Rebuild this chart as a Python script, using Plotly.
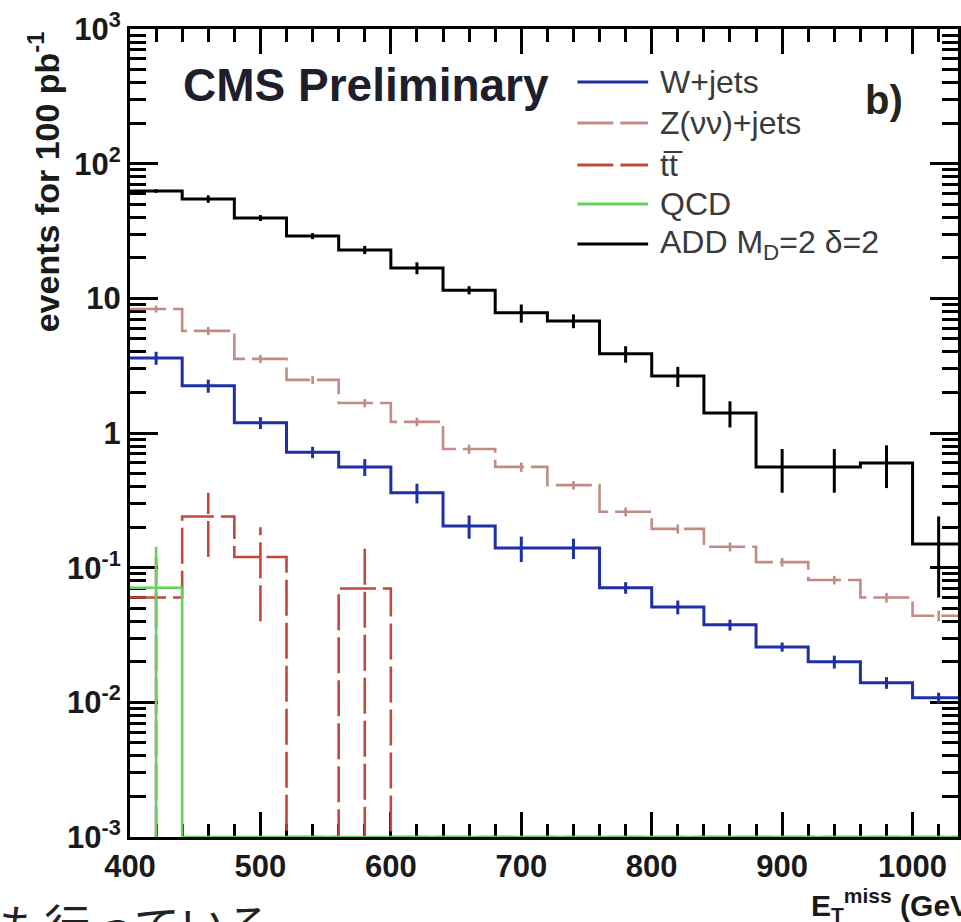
import plotly.graph_objects as go

# ---------------- data ----------------
bin_edges = [400, 440, 480, 520, 560, 600, 640, 680, 720, 760, 800, 840, 880, 920, 960, 1000, 1040]

wjets_vals = [3.61, 2.24, 1.19, 0.72, 0.56, 0.36, 0.204, 0.140, 0.140, 0.071, 0.051, 0.0376, 0.0258, 0.0200, 0.0140, 0.0108]
wjets_errs = [0.40, 0.25, 0.12, 0.07, 0.08, 0.06, 0.040, 0.030, 0.024, 0.007, 0.006, 0.0035, 0.0020, 0.0022, 0.0014, 0.0010]

zjets_vals = [8.34, 5.73, 3.55, 2.48, 1.67, 1.21, 0.76, 0.56, 0.41, 0.26, 0.194, 0.143, 0.110, 0.081, 0.060, 0.044]
zjets_errs = [0.50, 0.40, 0.25, 0.17, 0.12, 0.09, 0.06, 0.045, 0.03, 0.02, 0.015, 0.011, 0.008, 0.006, 0.005, 0.004]

ttbar_vals = [0.060, 0.24, 0.12, 0, 0.070, 0, 0, 0, 0, 0, 0, 0, 0, 0, 0, 0]
ttbar_errs = [0.060, 0.12, 0.08, 0, 0.070, 0, 0, 0, 0, 0, 0, 0, 0, 0, 0, 0]

qcd_vals = [0.071, 0, 0, 0, 0, 0, 0, 0, 0, 0, 0, 0, 0, 0, 0, 0]
qcd_errs = [0.072, 0, 0, 0, 0, 0, 0, 0, 0, 0, 0, 0, 0, 0, 0, 0]

add_vals = [62.7, 54.7, 39.5, 29.0, 22.9, 16.8, 11.5, 7.8, 6.8, 3.87, 2.65, 1.41, 0.56, 0.56, 0.60, 0.15]
add_errs = [2.0, 3.5, 2.0, 1.5, 1.6, 1.7, 0.8, 1.2, 0.8, 0.54, 0.45, 0.31, 0.20, 0.20, 0.21, 0.09]

legend_labels = ["W+jets", "Z(νν)+jets", "tt\u0305", "QCD", "ADD M<sub>D</sub>=2 δ=2"]
ytick_vals = [1e-3, 1e-2, 1e-1, 1, 10, 100, 1000]
ytick_text = ["10<sup>-3</sup>", "10<sup>-2</sup>", "10<sup>-1</sup>", "1", "10", "10<sup>2</sup>", "10<sup>3</sup>"]
xtick_vals = [400, 500, 600, 700, 800, 900, 1000]

# ---------------- style ----------------
YMIN, YMAX = 1e-3, 1e3
W, H = 961, 922
ML, MR, MT, MB = 130, 0, 29, 85
PX_PER_GEV = 1.309
XMAX = bin_edges[0] + (W - ML - MR) / PX_PER_GEV

C_W = "#1f2fa6"
C_Z = "#c28b86"
C_T = "#c2473d"
C_Q = "#62d25a"
C_A = "#000000"
DASH = "36px,7px"
FONT = "Liberation Sans, Arial, Helvetica, sans-serif"

fig = go.Figure()


def add_hist(vals, errs, color, width, dash):
    xs = list(bin_edges)
    ys = [max(v, YMIN) for v in vals] + [max(vals[-1], YMIN)]
    fig.add_trace(go.Scatter(x=xs, y=ys, mode="lines", line_shape="hv",
                             line=dict(color=color, width=width, dash=dash),
                             hoverinfo="skip", showlegend=False))
    ex, ey = [], []
    for lo, hi, v, e in zip(bin_edges[:-1], bin_edges[1:], vals, errs):
        if v <= 0:
            continue
        c = 0.5 * (lo + hi)
        low = v - e if v - e > 0 else YMIN * 0.1
        ex += [c, c, None]
        ey += [low, v + e, None]
    fig.add_trace(go.Scatter(x=ex, y=ey, mode="lines",
                             line=dict(color=color, width=width, dash=dash),
                             hoverinfo="skip", showlegend=False))


add_hist(zjets_vals, zjets_errs, C_Z, 2.6, DASH)
add_hist(wjets_vals, wjets_errs, C_W, 3.0, "solid")
add_hist(ttbar_vals, ttbar_errs, C_T, 2.6, DASH)
add_hist(qcd_vals, qcd_errs, C_Q, 2.6, "solid")
add_hist(add_vals, add_errs, C_A, 3.0, "solid")


def px2paper_x(px):
    return (px - ML) / (W - ML - MR)


def px2paper_y(py):
    return (H - MB - py) / (H - MT - MB)


# ---------------- legend (manual, ROOT-like) ----------------
leg_rows_y = [82, 123, 165, 204, 244]
leg_colors = [C_W, C_Z, C_T, C_Q, C_A]
leg_dash = ["solid", DASH, DASH, "solid", "solid"]
shapes = []
annotations = []
for lab, yy, col, ds in zip(legend_labels, leg_rows_y, leg_colors, leg_dash):
    shapes.append(dict(type="line", xref="paper", yref="paper",
                       x0=px2paper_x(579), x1=px2paper_x(650),
                       y0=px2paper_y(yy), y1=px2paper_y(yy),
                       line=dict(color=col, width=3, dash=ds)))
    annotations.append(dict(xref="paper", yref="paper", x=px2paper_x(660), y=px2paper_y(yy),
                            xanchor="left", yanchor="middle", showarrow=False, text=lab,
                            font=dict(family=FONT, size=32, color="#3a3a3a")))

annotations += [
    dict(xref="paper", yref="paper", x=px2paper_x(181), y=px2paper_y(85),
         xanchor="left", yanchor="middle", showarrow=False, text="CMS Preliminary",
         font=dict(family=FONT, size=46, color="#1e1e2c", weight="bold")),
    dict(xref="paper", yref="paper", x=px2paper_x(866), y=px2paper_y(100),
         xanchor="left", yanchor="middle", showarrow=False, text="b)",
         font=dict(family=FONT, size=40, color="#262418", weight="bold")),
    dict(xref="paper", yref="paper", x=px2paper_x(44), y=px2paper_y(182),
         xanchor="center", yanchor="middle", showarrow=False, textangle=-90,
         text="events for 100 pb<sup>-1</sup>",
         font=dict(family=FONT, size=34, color="#1a1a1a", weight="bold")),
    dict(xref="paper", yref="paper", x=px2paper_x(985), y=px2paper_y(905),
         xanchor="right", yanchor="middle", showarrow=False,
         text="E<sub>T</sub><sup>miss</sup> (GeV)",
         font=dict(family=FONT, size=30, color="#1a1a1a", weight="bold")),
    dict(xref="paper", yref="paper", x=px2paper_x(-4), y=px2paper_y(888),
         xanchor="left", yanchor="top", showarrow=False,
         text="も行っている",
         font=dict(family="Noto Sans CJK JP", size=46, color="#222222")),
]

axis_common = dict(showline=True, linecolor="black", linewidth=3, mirror="allticks",
                   ticks="inside", tickcolor="black", tickwidth=3, showgrid=False,
                   zeroline=False, layer="below traces",
                   tickfont=dict(family=FONT, size=31, color="#1a1a1a", weight="bold"))

fig.update_layout(
    width=W, height=H,
    margin=dict(l=ML, r=MR, t=MT, b=MB, pad=0),
    paper_bgcolor="white", plot_bgcolor="white",
    showlegend=False,
    shapes=shapes, annotations=annotations,
    xaxis=dict(range=[bin_edges[0], XMAX], tickvals=xtick_vals, ticklen=25,
               minor=dict(ticks="inside", dtick=20, tick0=400, ticklen=13, tickwidth=3,
                          tickcolor="black", showgrid=False),
               **axis_common),
    yaxis=dict(type="log", range=[-3, 3], tickvals=ytick_vals, ticktext=ytick_text,
               ticklen=28,
               minor=dict(ticks="inside", dtick="D1", ticklen=16, tickwidth=3,
                          tickcolor="black", showgrid=False),
               **axis_common),
)

fig.write_html("out.html")
